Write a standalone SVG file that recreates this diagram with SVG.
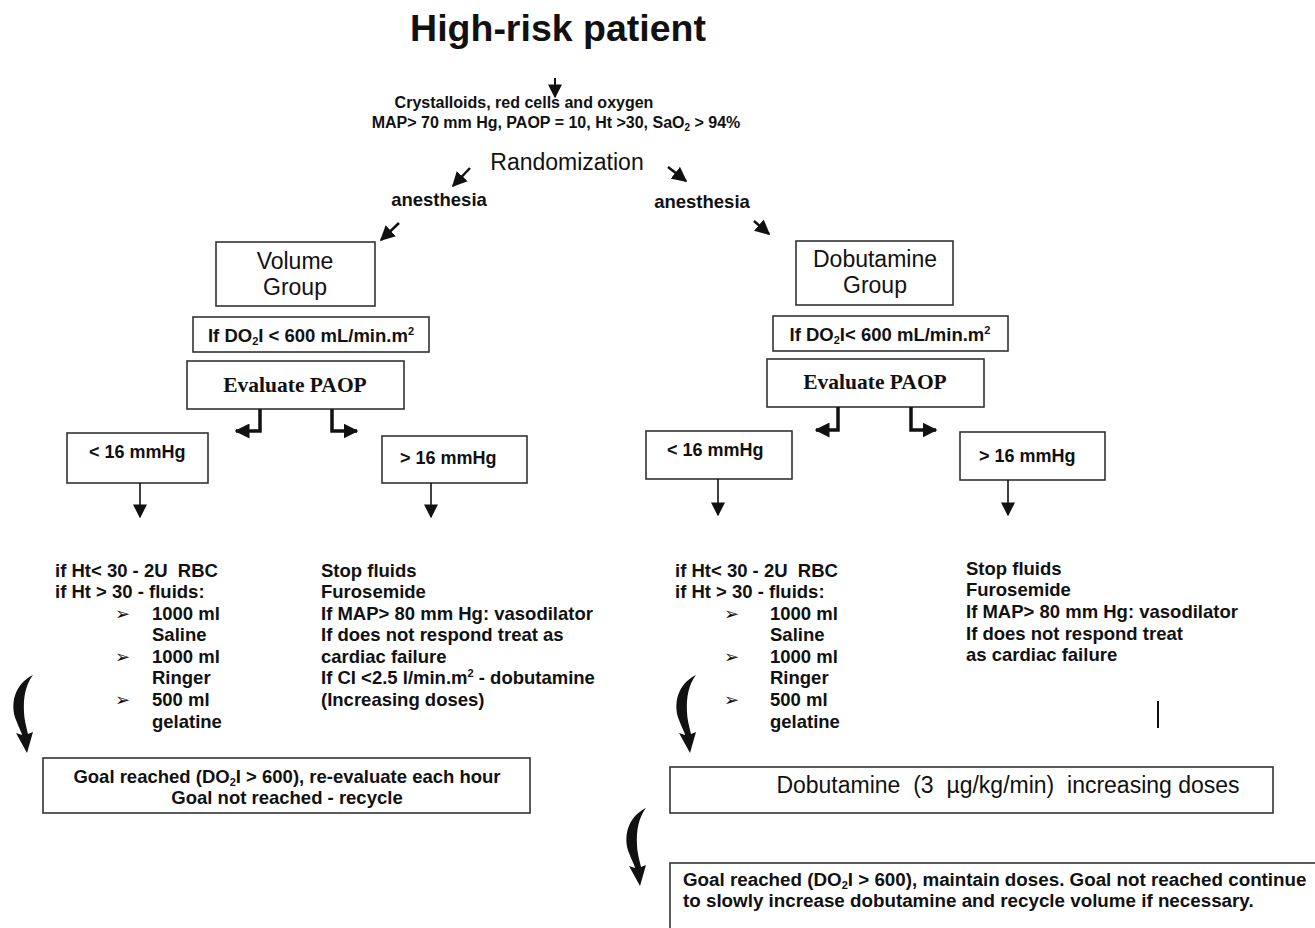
<svg xmlns="http://www.w3.org/2000/svg" width="1315" height="928" viewBox="0 0 1315 928">
<defs>
<style>
.box{fill:#fff;stroke:#333;stroke-width:1.6}
.t{font-family:"Liberation Sans",Arial,sans-serif;fill:#111}
.b{font-weight:bold}
.s{font-family:"Liberation Serif","Times New Roman",serif;fill:#111;font-weight:bold}
.ln{stroke:#111;fill:none}
.bul{font-family:"DejaVu Sans",sans-serif;fill:#111;font-size:18px}
.body{font-size:18.5px}
</style>
<marker id="ahb" viewBox="0 0 10 10" refX="9" refY="5" markerWidth="15" markerHeight="15" orient="auto" markerUnits="userSpaceOnUse">
<path d="M0,0 L10,5 L0,10 Z" fill="#111"/>
</marker>
<marker id="ahd" viewBox="0 0 10 10" refX="9" refY="5" markerWidth="14" markerHeight="14" orient="auto" markerUnits="userSpaceOnUse">
<path d="M0,0 L10,5 L0,10 Z" fill="#111"/>
</marker>
</defs>
<rect width="1315" height="928" fill="#fff"/>

<g id="title">
<text class="t b" x="558" y="41" font-size="37.5" text-anchor="middle">High-risk patient</text>
</g>

<g id="start">
<text class="t b" x="524" y="108" font-size="16" text-anchor="middle">Crystalloids, red cells and oxygen</text>
<text class="t b" x="556" y="128" font-size="16" text-anchor="middle">MAP&gt; 70 mm Hg, PAOP = 10, Ht &gt;30, SaO<tspan font-size="10" dy="3">2</tspan><tspan dy="-3"> &gt; 94%</tspan></text>
</g>

<g id="randomization">
<text class="t" x="567" y="170" font-size="23" text-anchor="middle">Randomization</text>
</g>

<g id="anesthesia-left">
<text class="t b" x="439" y="206" font-size="18.5" text-anchor="middle">anesthesia</text>
</g>
<g id="anesthesia-right">
<text class="t b" x="702" y="208" font-size="18.5" text-anchor="middle">anesthesia</text>
</g>

<g id="volume-group">
<rect class="box" x="216" y="242" width="159" height="64"/>
<text class="t" x="295" y="269" font-size="23" text-anchor="middle">Volume</text>
<text class="t" x="295" y="295" font-size="23" text-anchor="middle">Group</text>
</g>
<g id="vol-do2i">
<rect class="box" x="193" y="317" width="236" height="35"/>
<text class="t b" x="311" y="342" font-size="18.5" text-anchor="middle">If DO<tspan font-size="11" dy="3">2</tspan><tspan dy="-3">I &lt; 600 mL/min.m</tspan><tspan font-size="11" dy="-7">2</tspan></text>
</g>
<g id="vol-evaluate">
<rect class="box" x="187" y="361" width="217" height="48"/>
<text class="s" x="295" y="392" font-size="21.5" text-anchor="middle">Evaluate PAOP</text>
</g>
<g id="vol-lt16">
<rect class="box" x="67" y="433" width="141" height="50"/>
<text class="t b" x="89" y="458" font-size="18">&lt; 16 mmHg</text>
</g>
<g id="vol-gt16">
<rect class="box" x="382" y="436" width="145" height="47"/>
<text class="t b" x="400" y="464" font-size="18">&gt; 16 mmHg</text>
</g>

<g id="vol-fluids">
<text class="t b body" xml:space="preserve"><tspan x="55" y="577">if Ht&lt; 30 - 2U  RBC</tspan><tspan x="55" y="598">if Ht &gt; 30 - fluids:</tspan><tspan x="152" y="620">1000 ml</tspan><tspan x="152" y="641">Saline</tspan><tspan x="152" y="663">1000 ml</tspan><tspan x="152" y="684">Ringer</tspan><tspan x="152" y="706">500 ml</tspan><tspan x="152" y="728">gelatine</tspan></text>
<text class="bul"><tspan x="115" y="620">➢</tspan><tspan x="115" y="663">➢</tspan><tspan x="115" y="706">➢</tspan></text>
</g>
<g id="vol-stop">
<text class="t b body"><tspan x="321" y="577">Stop fluids</tspan><tspan x="321" y="598">Furosemide</tspan><tspan x="321" y="620">If MAP&gt; 80 mm Hg: vasodilator</tspan><tspan x="321" y="641">If does not respond treat as</tspan><tspan x="321" y="663">cardiac failure</tspan><tspan x="321" y="684">If CI &lt;2.5 l/min.m</tspan><tspan font-size="11" dy="-7">2</tspan><tspan dy="7"> - dobutamine</tspan><tspan x="321" y="706">(Increasing doses)</tspan></text>
</g>

<g id="vol-goal">
<rect class="box" x="43" y="758" width="487" height="55"/>
<text class="t b body" x="287" y="783" text-anchor="middle">Goal reached (DO<tspan font-size="11" dy="3">2</tspan><tspan dy="-3">I &gt; 600), re-evaluate each hour</tspan></text>
<text class="t b body" x="287" y="804" text-anchor="middle">Goal not reached - recycle</text>
</g>

<g id="dobutamine-group">
<rect class="box" x="796" y="241" width="157" height="64"/>
<text class="t" x="875" y="267" font-size="23" text-anchor="middle">Dobutamine</text>
<text class="t" x="875" y="293" font-size="23" text-anchor="middle">Group</text>
</g>
<g id="dob-do2i">
<rect class="box" x="773" y="316" width="235" height="35"/>
<text class="t b" x="890" y="341" font-size="18.5" text-anchor="middle">If DO<tspan font-size="11" dy="3">2</tspan><tspan dy="-3">I&lt; 600 mL/min.m</tspan><tspan font-size="11" dy="-7">2</tspan></text>
</g>
<g id="dob-evaluate">
<rect class="box" x="767" y="359" width="217" height="48"/>
<text class="s" x="875" y="389" font-size="21.5" text-anchor="middle">Evaluate PAOP</text>
</g>
<g id="dob-lt16">
<rect class="box" x="646" y="431" width="146" height="48"/>
<text class="t b" x="667" y="456" font-size="18">&lt; 16 mmHg</text>
</g>
<g id="dob-gt16">
<rect class="box" x="960" y="432" width="145" height="48"/>
<text class="t b" x="979" y="462" font-size="18">&gt; 16 mmHg</text>
</g>

<g id="dob-fluids">
<text class="t b body" xml:space="preserve"><tspan x="675" y="577">if Ht&lt; 30 - 2U  RBC</tspan><tspan x="675" y="598">if Ht &gt; 30 - fluids:</tspan><tspan x="770" y="620">1000 ml</tspan><tspan x="770" y="641">Saline</tspan><tspan x="770" y="663">1000 ml</tspan><tspan x="770" y="684">Ringer</tspan><tspan x="770" y="706">500 ml</tspan><tspan x="770" y="728">gelatine</tspan></text>
<text class="bul"><tspan x="724" y="620">➢</tspan><tspan x="724" y="663">➢</tspan><tspan x="724" y="706">➢</tspan></text>
</g>
<g id="dob-stop">
<text class="t b body"><tspan x="966" y="575">Stop fluids</tspan><tspan x="966" y="596">Furosemide</tspan><tspan x="966" y="618">If MAP&gt; 80 mm Hg: vasodilator</tspan><tspan x="966" y="640">If does not respond treat</tspan><tspan x="966" y="661">as cardiac failure</tspan></text>
<line class="ln" x1="1158" y1="701" x2="1158" y2="728" stroke-width="2"/>
</g>

<g id="dob-dose">
<rect class="box" x="670" y="767" width="603" height="46"/>
<text class="t" x="1008" y="793" font-size="23" text-anchor="middle" xml:space="preserve">Dobutamine  (3  µg/kg/min)  increasing doses</text>
</g>

<g id="dob-goal">
<rect class="box" x="670" y="863" width="700" height="100"/>
<text class="t b" font-size="18.8" x="683" y="886">Goal reached (DO<tspan font-size="11" dy="3">2</tspan><tspan dy="-3">I &gt; 600), maintain doses. Goal not reached continue</tspan></text>
<text class="t b" font-size="18.8" x="683" y="907">to slowly increase dobutamine and recycle volume if necessary.</text>
</g>

<g id="connectors">
<line class="ln" x1="555" y1="78" x2="555" y2="97" stroke-width="2" marker-end="url(#ahd)"/>
<line class="ln" x1="470" y1="168" x2="453" y2="186" stroke-width="2.5" marker-end="url(#ahb)"/>
<line class="ln" x1="668" y1="167" x2="686" y2="181" stroke-width="2.5" marker-end="url(#ahb)"/>
<line class="ln" x1="399" y1="223" x2="381" y2="240" stroke-width="2.5" marker-end="url(#ahb)"/>
<line class="ln" x1="754" y1="221" x2="769" y2="234" stroke-width="2.5" marker-end="url(#ahb)"/>
<path class="ln" d="M260,409 V431 H236" stroke-width="3.5" marker-end="url(#ahb)"/>
<path class="ln" d="M332,409 V431 H357" stroke-width="3.5" marker-end="url(#ahb)"/>
<path class="ln" d="M838,407 V430 H816" stroke-width="3.5" marker-end="url(#ahb)"/>
<path class="ln" d="M911,407 V430 H936" stroke-width="3.5" marker-end="url(#ahb)"/>
<line class="ln" x1="140" y1="483" x2="140" y2="517" stroke-width="1.6" marker-end="url(#ahd)"/>
<line class="ln" x1="431" y1="483" x2="431" y2="517" stroke-width="1.6" marker-end="url(#ahd)"/>
<line class="ln" x1="718" y1="479" x2="718" y2="515" stroke-width="1.6" marker-end="url(#ahd)"/>
<line class="ln" x1="1008" y1="480" x2="1008" y2="515" stroke-width="1.6" marker-end="url(#ahd)"/>
<path d="M33,675 C14,684 10,705 16,720 C19,728 22,733 22,735 L16,733 L27,753 L33,732 L28,734 C26,726 24,718 24,712 C23,697 26,684 33,675 Z" fill="#111"/>
<path d="M696,675 C677,684 673,705 679,720 C682,728 685,733 685,735 L679,733 L690,753 L696,732 L691,734 C689,726 687,718 687,712 C686,697 689,684 696,675 Z" fill="#111"/>
<path d="M646,808 C627,817 623,838 629,853 C632,861 635,866 635,868 L629,866 L640,886 L646,865 L641,867 C639,859 637,851 637,845 C636,830 639,817 646,808 Z" fill="#111"/>
</g>
</svg>
